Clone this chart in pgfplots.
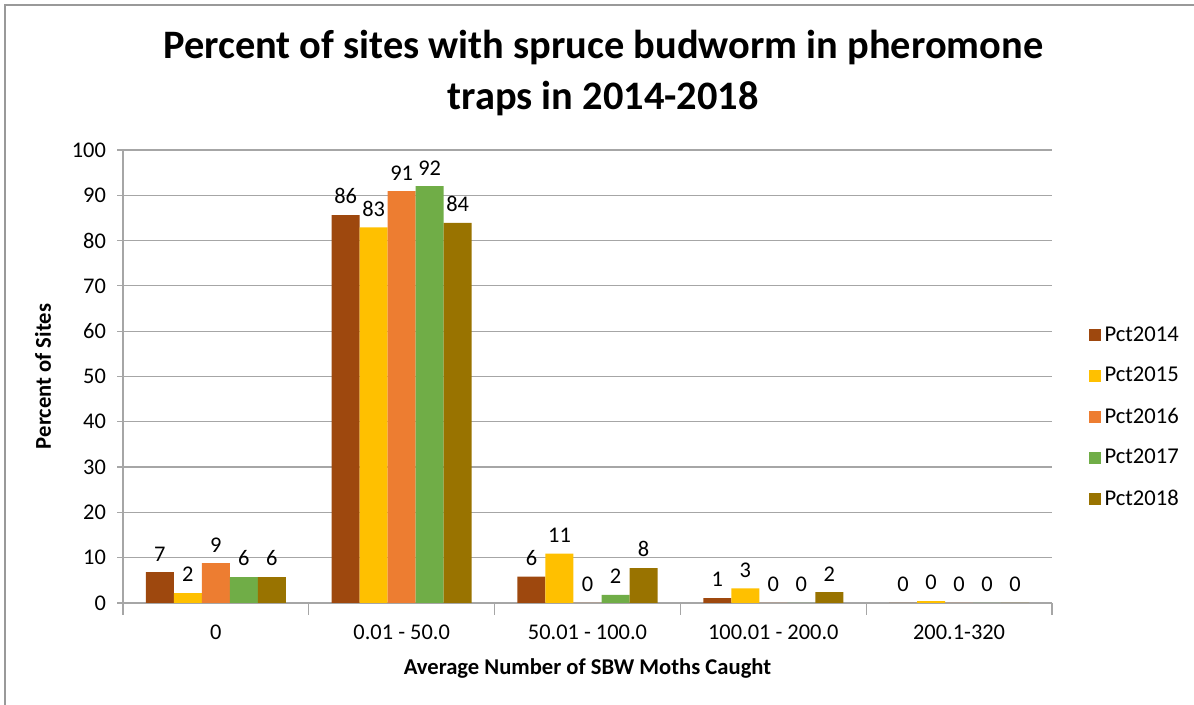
\documentclass[border=0pt]{standalone}
\usepackage{fontspec}
\setmainfont{Carlito}
\usepackage{pgfplots}
\pgfplotsset{compat=1.18}
\definecolor{c14}{HTML}{9E480E}
\definecolor{c15}{HTML}{FFC000}
\definecolor{c16}{HTML}{ED7D31}
\definecolor{c17}{HTML}{70AD47}
\definecolor{c18}{HTML}{997300}
\definecolor{gridc}{HTML}{A6A6A6}
\begin{document}
\begin{tikzpicture}[x=1pt,y=1pt]
\useasboundingbox (0,0) rectangle (597,352.5);
\draw[gray!80, line width=0.8pt] (2.5,0) -- (2.5,350) -- (597,350);
\begin{axis}[
  at={(61.5pt,51pt)}, anchor=south west,
  scale only axis, width=464.5pt, height=226.5pt,
  ybar=0pt, bar width=14pt,
  xmin=-0.5, xmax=4.5, ymin=0, ymax=100,
  xtick={0,1,2,3,4},
  xticklabels={0, 0.01 - 50.0, 50.01 - 100.0, 100.01 - 200.0, 200.1-320},
  minor xtick={-0.5,0.5,1.5,2.5,3.5,4.5},
  ytick={0,10,...,100},
  axis x line*=bottom, axis y line*=left,
  axis line style={draw=gridc, line width=0.6pt},
  major x tick style={draw=none},
  minor x tick style={draw=gridc, line width=0.6pt},
  minor tick length=6pt,
  major tick length=3pt,
  ytick style={draw=gridc, line width=0.6pt},
  tick align=outside,
  ymajorgrids, grid style={draw=gridc, line width=0.6pt},
  tick label style={font=\fontsize{11.2}{13}\selectfont, black},
  /pgf/number format/assume math mode=true,
  xticklabel style={yshift=-4.5pt},
  yticklabel style={xshift=-2pt},
  xlabel={Average Number of SBW Moths Caught},
  ylabel={Percent of Sites},
  label style={font=\bfseries\fontsize{11.3}{13}\selectfont},
  xlabel style={at={(axis description cs:0.5,0)}, anchor=center, yshift=-32.5pt},
  ylabel style={at={(axis description cs:0,0.5)}, anchor=center, yshift=40pt},
  title={Percent of sites with spruce budworm in pheromone\\traps in 2014-2018},
  title style={font=\bfseries\fontsize{20.2}{25.5}\selectfont, align=center, at={(axis description cs:0.517,1)}, anchor=center, yshift=32.5pt},
  nodes near coords={\pgfmathprintnumber[fixed,precision=0]{\pgfplotspointmeta}},
  nodes near coords style={font=\fontsize{11.2}{13}\selectfont, black, anchor=south, yshift=2pt},
  legend style={at={(axis description cs:1.039,0.62)}, anchor=north west, draw=none, fill=none,
    font=\fontsize{11.3}{13}\selectfont, row sep=7.5pt, inner sep=0pt},
  legend cell align=left,
  legend image code/.code={\fill[#1] (0pt,-3pt) rectangle (6pt,3pt);},
]
\addplot[fill=c14, draw=none] coordinates {(0,6.8) (1,85.6) (2,5.8) (3,1.1) (4,0)};
\addplot[fill=c15, draw=none] coordinates {(0,2.2) (1,82.9) (2,10.9) (3,3.2) (4,0.4)};
\addplot[fill=c16, draw=none] coordinates {(0,8.8) (1,90.9) (2,0) (3,0) (4,0)};
\addplot[fill=c17, draw=none] coordinates {(0,5.7) (1,92.0) (2,1.8) (3,0) (4,0)};
\addplot[fill=c18, draw=none] coordinates {(0,5.7) (1,83.9) (2,7.7) (3,2.4) (4,0)};
\legend{Pct2014,Pct2015,Pct2016,Pct2017,Pct2018}
\end{axis}
\end{tikzpicture}
\end{document}
